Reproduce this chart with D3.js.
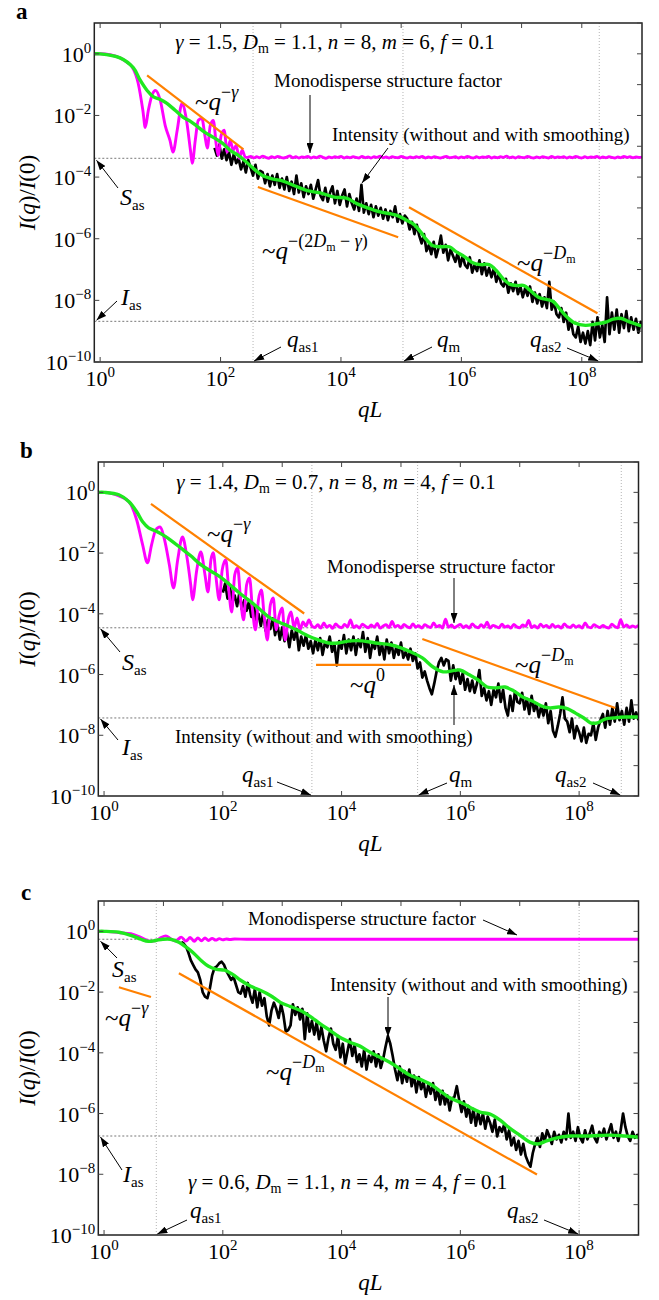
<!DOCTYPE html>
<html>
<head>
<meta charset="utf-8">
<script src="https://cdn.jsdelivr.net/npm/d3@7"></script>
<style>
  body { margin: 0; background: #fff; }
  svg { display: block; }
  text { white-space: pre; fill: #000; }
</style>
</head>
<body>
<svg id="fig" width="659" height="1300"></svg>
<script>
// All series are stored as log10(qL) and log10(I(q)/I(0)).

// ---------- panel a : gamma 1.5, Dm 1.1, n 8, m 6, f 0.1 ----------
const aMagentaOsc = [[-0.1,0],[0,0],[0.33,-0.13],[0.45,-0.28],[0.53,-0.42],[0.63,-0.94],[0.71,-1.84],[0.75,-2.39],
  [0.80,-1.84],[0.86,-1.35],[0.92,-1.19],[1.0,-1.52],[1.08,-2.32],[1.16,-2.81],[1.21,-3.19],[1.28,-2.48],
  [1.36,-1.61],[1.43,-2.1],[1.50,-3.13],[1.53,-3.55],[1.58,-2.81],[1.63,-2.16],[1.69,-2.10],[1.74,-2.65],
  [1.78,-3.06],[1.83,-2.32],[1.88,-2.16],[1.93,-2.97],[1.96,-3.29],[2.01,-2.65],[2.06,-2.48],[2.11,-3.19],
  [2.16,-2.81],[2.21,-3.13],[2.26,-2.97],[2.31,-3.39],[2.36,-3.13],[2.41,-3.35]];
const aMagentaPlateauFrom = 2.45, aMagentaPlateauStep = 0.05;
const aMagentaPlateau = [
  -3.36,-3.33,-3.38,-3.34,-3.37,-3.32,-3.36,-3.39,-3.34,-3.37,-3.33,-3.36,-3.38,-3.35,-3.31,-3.37,-3.34,-3.38,-3.35,-3.36,
  -3.33,-3.38,-3.35,-3.37,-3.32,-3.36,-3.39,-3.35,-3.37,-3.34,-3.36,-3.33,-3.38,-3.35,-3.37,-3.34,-3.36,-3.38,-3.33,-3.37,
  -3.35,-3.38,-3.34,-3.36,-3.32,-3.37,-3.35,-3.38,-3.34,-3.36,-3.37,-3.33,-3.36,-3.38,-3.35,-3.37,-3.34,-3.36,-3.33,-3.38,
  -3.35,-3.37,-3.34,-3.36,-3.38,-3.35,-3.33,-3.37,-3.36,-3.34,-3.38,-3.35,-3.37,-3.33,-3.36,-3.38,-3.34,-3.37,-3.35,-3.36,
  -3.33,-3.38,-3.35,-3.37,-3.34,-3.36,-3.32,-3.37,-3.35,-3.38,-3.34,-3.36,-3.37,-3.33,-3.36,-3.38,-3.35,-3.37,-3.34,-3.36,
  -3.38,-3.33,-3.37,-3.35,-3.36,-3.34,-3.38,-3.35,-3.37,-3.33,-3.36,-3.38,-3.34,-3.37,-3.35,-3.36,-3.33,-3.38,-3.35,-3.37,
  -3.34,-3.36,-3.38,-3.35,-3.37,-3.33,-3.36,-3.34,-3.37,-3.35,-3.36,-3.35];
const aBlackFrom = 1.90, aBlackStep = 0.04;
const aBlack = [
  -3.05,-3.30,-2.95,-3.40,-3.10, -3.45,-3.20,-3.60,-3.25,-3.55, -3.40,-3.75,-3.50,-3.85,-3.45,
  -3.70,-3.95,-3.60,-4.05,-3.80, -3.85,-4.20,-3.90,-4.30,-3.95, -4.25,-3.90,-4.35,-4.05,-4.40,
  -4.00,-4.45,-4.15,-4.55,-3.95, -4.50,-4.20,-4.65,-4.30,-4.55, -4.25,-4.70,-4.40,-4.10,-4.60,
  -4.75,-4.35,-4.80,-4.50,-4.30, -4.85,-4.45,-4.90,-4.60,-4.40, -4.95,-4.55,-4.85,-5.05,-4.70,
  -5.10,-4.25,-5.15,-4.85,-5.20, -4.90,-5.30,-4.95,-5.25,-5.00, -5.35,-5.05,-5.40,-5.10,-5.30,
  -4.95,-5.45,-5.20,-5.50,-5.25, -5.35,-5.70,-5.45,-5.85,-5.55, -5.90,-6.15,-5.85,-6.40,-6.20,
  -6.50,-6.10,-6.60,-6.30,-5.90, -6.45,-6.20,-6.70,-6.35,-6.55, -6.75,-6.45,-6.90,-6.55,-6.85,
  -6.95,-6.60,-7.10,-6.85,-7.05, -6.70,-7.15,-6.80,-7.20,-6.95, -7.25,-6.95,-7.40,-7.15,-7.45,
  -7.55,-7.30,-7.75,-7.45,-7.70, -7.40,-7.80,-7.55,-7.90,-7.60, -7.85,-7.55,-8.05,-7.75,-8.10,
  -7.80,-8.20,-7.90,-8.25,-7.40, -8.30,-8.05,-8.45,-8.55,-8.25, -8.70,-8.40,-8.95,-8.65,-9.10,
  -9.20,-8.85,-9.35,-9.05,-9.40, -9.00,-9.45,-8.70,-9.30,-8.55, -9.20,-8.80,-9.35,-7.90,-9.10,
  -8.40,-8.95,-8.30,-9.05,-8.45, -8.90,-8.35,-9.00,-8.55,-8.95, -8.60,-9.05,-8.70,-8.80];
const aGreen = [[-0.1,0],[0,0],[0.33,-0.13],[0.55,-0.45],[0.66,-0.84],[0.78,-1.19],[0.88,-1.39],[1.0,-1.48],
  [1.11,-1.61],[1.25,-1.84],[1.38,-2.06],[1.5,-2.19],[1.61,-2.35],[1.74,-2.55],[1.88,-2.71],[2.03,-2.9],
  [2.16,-3.13],[2.29,-3.29],[2.41,-3.48],[2.54,-3.71],[2.69,-3.94],[2.86,-4.06],[3.04,-4.13],[3.24,-4.29],
  [3.46,-4.45],[3.67,-4.52],[3.89,-4.65],[4.09,-4.68],[4.27,-4.87],[4.44,-5.0],[4.65,-5.13],[4.82,-5.19],
  [4.95,-5.26],[5.08,-5.39],[5.22,-5.55],[5.32,-5.77],[5.42,-6.03],[5.53,-6.23],[5.66,-6.26],[5.8,-6.26],
  [5.91,-6.42],[6.05,-6.58],[6.18,-6.77],[6.31,-6.84],[6.46,-6.84],[6.58,-7.03],[6.69,-7.29],[6.81,-7.48],
  [6.93,-7.52],[7.04,-7.52],[7.16,-7.71],[7.28,-7.9],[7.41,-7.97],[7.52,-8.03],[7.64,-8.29],[7.76,-8.55],
  [7.89,-8.74],[8.06,-8.81],[8.22,-8.77],[8.39,-8.71],[8.52,-8.61],[8.64,-8.58],[8.77,-8.68],[8.9,-8.77],[9.0,-8.84]];
const aGuideSteep = [[0.78,-0.70],[2.38,-3.10]];
const aGuideMiddle = [[2.62,-4.32],[4.95,-5.95]];
const aGuideTail = [[5.13,-4.98],[8.26,-8.42]];
const aCrossovers = [2.54, 5.03, 8.29];      // q_as1, q_m, q_as2
const aAsymptotes = [-3.39, -8.68];          // S_as, I_as

// ---------- panel b : gamma 1.4, Dm 0.7, n 8, m 4, f 0.1 ----------
const bMagentaOsc = [[-0.1,0],[0.01,0],[0.25,-0.12],[0.42,-0.31],[0.55,-0.91],[0.65,-1.73],[0.73,-2.32],
  [0.80,-1.73],[0.87,-1.24],[0.94,-1.14],[1.02,-1.57],[1.10,-2.39],[1.17,-3.15],[1.24,-2.22],[1.32,-1.47],
  [1.39,-2.06],[1.46,-3.05],[1.49,-3.54],[1.56,-2.57],[1.63,-1.96],[1.70,-2.72],[1.75,-3.28],[1.80,-2.22],
  [1.84,-1.99],[1.89,-2.88],[1.94,-3.54],[1.99,-2.55],[2.05,-2.22],[2.10,-3.21],[2.15,-3.94],[2.20,-2.72],
  [2.25,-2.49],[2.30,-3.54],[2.35,-4.20],[2.40,-3.05],[2.45,-2.82],[2.50,-3.87],[2.55,-4.53],[2.60,-3.54],
  [2.65,-3.21],[2.70,-4.14],[2.75,-4.86],[2.80,-3.71],[2.85,-3.48],[2.90,-4.53],[2.95,-4.04],[3.00,-3.81],
  [3.05,-4.86],[3.10,-4.2],[3.15,-3.94],[3.20,-4.46],[3.25,-4.14],[3.30,-4.53],[3.35,-4.27],[3.40,-4.4],[3.45,-4.20]];
const bMagentaPlateauFrom = 3.50, bMagentaPlateauStep = 0.05;
const bMagentaPlateau = [
  -4.40,-4.45,-4.36,-4.47,-4.30,-4.44,-4.38,-4.48,-4.33,-4.42,-4.46,-4.35,-4.43,-4.20,-4.45,-4.39,-4.47,-4.34,-4.41,-4.46,
  -4.37,-4.44,-4.32,-4.47,-4.40,-4.36,-4.45,-4.25,-4.43,-4.38,-4.47,-4.35,-4.42,-4.46,-4.33,-4.44,-4.39,-4.47,-4.36,-4.41,
  -4.45,-4.30,-4.43,-4.38,-4.47,-4.18,-4.44,-4.37,-4.46,-4.40,-4.35,-4.45,-4.39,-4.47,-4.33,-4.42,-4.46,-4.36,-4.44,-4.28,
  -4.47,-4.38,-4.42,-4.46,-4.34,-4.44,-4.40,-4.47,-4.35,-4.43,-4.46,-4.37,-4.41,-4.22,-4.45,-4.39,-4.47,-4.34,-4.43,-4.38,
  -4.46,-4.35,-4.44,-4.40,-4.47,-4.33,-4.42,-4.45,-4.37,-4.44,-4.39,-4.47,-4.30,-4.43,-4.46,-4.36,-4.41,-4.45,-4.38,-4.44,
  -4.47,-4.34,-4.42,-4.46,-4.19,-4.43,-4.37,-4.45,-4.40,-4.44,-4.38];
const bBlackFrom = 2.00, bBlackStep = 0.04;
const bBlack = [
  -3.30,-3.00,-3.50,-3.15,-3.60, -3.40,-3.75,-3.30,-3.85,-3.55, -3.90,-3.60,-4.10,-3.70,-4.25,
  -4.00,-4.40,-3.95,-4.55,-4.20, -4.50,-4.15,-4.70,-4.35,-4.85, -4.45,-4.90,-4.60,-5.10,-4.55,
  -4.85,-4.50,-5.20,-4.75,-5.05, -4.70,-5.15,-4.90,-5.30,-4.85, -5.20,-4.80,-5.35,-4.95,-5.10,
  -4.75,-5.25,-5.00,-5.70,-4.90, -5.15,-4.70,-5.30,-4.85,-5.20, -4.75,-5.35,-4.85,-5.10,-4.60,
  -5.25,-4.80,-5.45,-4.95,-5.15, -4.75,-5.35,-5.00,-5.50,-4.85, -5.30,-4.95,-5.45,-5.10,-5.35,
  -4.95,-5.45,-5.25,-5.50,-5.15, -5.55,-5.30,-5.80,-5.60,-6.10, -5.90,-6.20,-6.45,-6.65,-6.30,
  -5.90,-5.60,-5.45,-5.70,-5.50, -5.55,-6.20,-5.70,-6.15,-5.85, -6.30,-5.95,-6.50,-6.15,-6.55,
  -6.20,-6.60,-6.30,-5.85,-6.70, -6.45,-6.85,-6.55,-7.00,-6.50, -6.75,-6.30,-6.90,-6.50,-7.10,
  -7.35,-6.70,-7.20,-6.55,-6.90, -6.95,-6.60,-7.15,-6.80,-7.30, -6.70,-7.20,-6.95,-7.40,-7.05,
  -7.35,-6.95,-7.60,-7.20,-7.85, -8.05,-7.70,-7.30,-6.75,-7.45, -7.55,-7.90,-7.45,-8.10,-7.70,
  -7.90,-8.20,-7.75,-8.25,-7.95, -8.00,-7.60,-8.15,-7.75,-7.50, -7.30,-7.75,-7.20,-7.65,-7.10,
  -7.55,-6.95,-7.50,-7.20,-7.65, -7.10,-7.55,-6.85,-7.45,-7.25, -7.50];
const bGreen = [[-0.1,0],[0.01,0],[0.25,-0.08],[0.42,-0.31],[0.55,-0.64],[0.65,-0.97],[0.75,-1.17],[0.87,-1.27],
  [0.99,-1.40],[1.12,-1.57],[1.29,-1.83],[1.46,-2.09],[1.59,-2.32],[1.76,-2.55],[1.93,-2.75],[2.10,-3.01],
  [2.26,-3.28],[2.43,-3.54],[2.60,-3.81],[2.77,-4.10],[2.94,-4.27],[3.10,-4.40],[3.27,-4.56],[3.44,-4.73],
  [3.61,-4.86],[3.78,-4.96],[3.94,-4.96],[4.15,-4.89],[4.35,-4.89],[4.57,-4.96],[4.82,-5.02],[5.0,-5.12],
  [5.17,-5.26],[5.36,-5.45],[5.54,-5.75],[5.71,-5.91],[5.86,-5.88],[5.99,-5.85],[6.15,-6.01],[6.30,-6.18],
  [6.45,-6.41],[6.60,-6.44],[6.75,-6.41],[6.90,-6.54],[7.05,-6.74],[7.21,-6.87],[7.36,-7.03],[7.51,-7.10],
  [7.66,-7.07],[7.81,-7.13],[7.94,-7.27],[8.08,-7.43],[8.19,-7.59],[8.31,-7.59],[8.45,-7.46],[8.58,-7.43],
  [8.77,-7.40],[9.0,-7.40]];
const bGuideSteep = [[0.79,-0.38],[3.37,-3.99]];
const bGuideFlat = [[3.57,-5.68],[5.17,-5.68]];
const bGuideTail = [[5.36,-4.83],[8.61,-7.10]];
const bCrossovers = [3.50, 5.28, 8.71];
const bAsymptotes = [-4.46, -7.43];

// ---------- panel c : gamma 0.6, Dm 1.1, n 4, m 4, f 0.1 ----------
const cMagenta = [[-0.1,0],[0.01,0],[0.25,-0.04],[0.45,-0.08],[0.62,-0.2],[0.78,-0.33],[0.88,-0.3],[0.96,-0.2],
  [1.04,-0.15],[1.12,-0.24],[1.2,-0.32],[1.3,-0.19],[1.38,-0.32],[1.45,-0.2],[1.52,-0.33],[1.58,-0.22],
  [1.64,-0.31],[1.7,-0.22],[1.76,-0.3],[1.82,-0.23],[1.88,-0.29],[1.94,-0.24],[2.0,-0.28],[2.06,-0.25],
  [2.12,-0.27],[2.2,-0.25],[2.4,-0.26],[3,-0.26],[4,-0.26],[5,-0.26],[6,-0.26],[7,-0.26],[8,-0.26],[9,-0.26]];
const cBlackFrom = 1.30, cBlackStep = 0.04;
const cBlack = [
  -0.35,-0.40,-0.50,-0.70,-0.95, -1.10,-1.25,-1.35,-1.60,-2.00, -2.15,-2.20,-1.90,-1.45,-1.20,
  -1.15,-1.05,-1.00,-1.10,-1.30, -1.45,-1.60,-1.50,-1.75,-2.00, -2.05,-1.80,-2.15,-1.70,-2.10,
  -2.35,-1.90,-2.50,-2.00,-2.45, -2.20,-2.80,-3.10,-2.60,-2.35, -2.55,-2.85,-2.40,-2.75,-3.30,
  -3.25,-3.10,-2.40,-2.75,-2.50, -2.90,-2.55,-3.55,-2.70,-3.30, -2.95,-3.40,-3.00,-3.55,-3.15,
  -3.60,-3.95,-3.50,-3.20,-3.70, -3.90,-3.45,-4.15,-3.70,-4.35, -3.95,-3.55,-4.10,-3.75,-4.30,
  -4.05,-4.45,-3.90,-4.55,-4.10, -4.30,-3.95,-4.45,-4.05,-4.50, -4.20,-3.80,-3.45,-3.70,-4.10,
  -4.55,-4.90,-4.45,-5.00,-4.60, -4.95,-4.55,-5.10,-4.75,-5.30, -4.80,-5.20,-4.95,-5.45,-5.05,
  -5.35,-5.00,-5.55,-5.20,-5.70, -5.25,-5.70,-5.40,-5.90,-5.50, -5.45,-5.10,-5.55,-5.95,-5.60,
  -6.10,-5.75,-6.30,-5.85,-6.40, -5.95,-6.35,-6.00,-6.50,-6.10, -6.30,-6.60,-6.20,-6.75,-6.45,
  -6.60,-6.35,-6.85,-6.55,-7.05, -6.80,-7.20,-6.90,-7.35,-7.00, -7.40,-7.60,-7.75,-7.30,-7.00,
  -6.80,-7.10,-6.65,-6.90,-6.55, -6.75,-7.00,-6.60,-6.85,-6.70, -6.95,-6.60,-6.85,-6.00,-6.80,
  -6.60,-6.90,-6.45,-6.80,-6.95, -6.55,-6.85,-6.65,-6.40,-6.80, -6.95,-6.60,-6.75,-6.50,-6.85,
  -6.60,-6.35,-6.80,-6.60,-6.90, -6.55,-6.00,-6.45,-6.75,-6.90, -6.60,-6.80,-6.70,-6.75];
const cGreen = [[-0.1,0],[0.01,0],[0.25,-0.03],[0.45,-0.13],[0.62,-0.26],[0.75,-0.33],[0.87,-0.30],[0.99,-0.26],
  [1.12,-0.26],[1.26,-0.36],[1.39,-0.53],[1.51,-0.72],[1.63,-0.95],[1.76,-1.15],[1.89,-1.25],[2.03,-1.28],
  [2.16,-1.41],[2.30,-1.61],[2.47,-1.81],[2.63,-1.94],[2.80,-2.11],[2.97,-2.34],[3.13,-2.47],[3.30,-2.60],
  [3.47,-2.80],[3.63,-3.03],[3.80,-3.26],[3.97,-3.49],[4.14,-3.65],[4.31,-3.78],[4.48,-3.98],[4.64,-4.14],
  [4.81,-4.31],[4.99,-4.54],[5.15,-4.74],[5.32,-4.87],[5.49,-5.03],[5.66,-5.26],[5.83,-5.49],[6.0,-5.63],
  [6.16,-5.79],[6.33,-5.95],[6.5,-6.02],[6.67,-6.22],[6.83,-6.48],[7.0,-6.71],[7.17,-6.94],[7.31,-7.0],
  [7.44,-6.91],[7.61,-6.81],[7.84,-6.74],[8.18,-6.74],[8.52,-6.71],[8.77,-6.74],[9.0,-6.78]];
const cGuideSteep = [[0.25,-1.84],[0.79,-2.16]];
const cGuideTail = [[1.26,-1.38],[7.29,-8.01]];
const cCrossovers = [0.88, 8.00];            // q_as1, q_as2
const cAsymptotes = [-0.26, -6.74];

// axis decades
const xLabelDecades = [0, 2, 4, 6, 8];
const xMinorDecades = [0, 1, 2, 3, 4, 5, 6, 7, 8];
const yLabelDecades = [0, -2, -4, -6, -8, -10];
const yMinorDecades = [1, 0, -1, -2, -3, -4, -5, -6, -7, -8, -9, -10];

// ---------- text helpers ----------
const FONT = '"Liberation Serif","Times New Roman",Times,serif';
const t = (s, o) => Object.assign({ s }, o || {});
const sup = (s, o) => t(s, Object.assign({ sh: -12, fs: 18 }, o || {}));

const lblSteep = [t('~'), t('q', { i: 1 }), sup('−'), sup('γ', { i: 1 })];
const lblDm = [t('~'), t('q', { i: 1 }), sup('−'), sup('D', { i: 1 }), t('m', { sh: -8, fs: 12 })];
const lblMid = [t('~'), t('q', { i: 1 }), sup('−(2'), sup('D', { i: 1 }), t('m', { sh: -8, fs: 12 }),
  sup(' − '), sup('γ', { i: 1 }), sup(')')];
const lblFlat = [t('~'), t('q', { i: 1 }), sup('0')];
const sub = s => t(s, { sh: 5, fs: 15 });
const lblS = [t('S', { i: 1 }), sub('as')];
const lblI = [t('I', { i: 1 }), sub('as')];
const lblQ1 = [t('q', { i: 1 }), sub('as1')];
const lblQm = [t('q', { i: 1 }), sub('m')];
const lblQ2 = [t('q', { i: 1 }), sub('as2')];
const paramLine = (g, d, n, m, f) => [t('γ', { i: 1 }), t(' = ' + g + ', '), t('D', { i: 1 }),
  t('m', { sh: 4, fs: 14 }), t(' = ' + d + ', '), t('n', { i: 1 }), t(' = ' + n + ', '),
  t('m', { i: 1 }), t(' = ' + m + ', '), t('f', { i: 1 }), t(' = ' + f)];
const lblMono = [t('Monodisperse structure factor')];
const lblIntensity = [t('Intensity (without and with smoothing)')];

const svg = d3.select('#fig').attr('font-family', FONT);
const defs = svg.append('defs');
defs.append('marker').attr('id', 'head').attr('viewBox', '0 0 10 7')
  .attr('refX', 10).attr('refY', 3.5).attr('markerWidth', 10).attr('markerHeight', 7)
  .attr('markerUnits', 'userSpaceOnUse').attr('orient', 'auto')
  .append('path').attr('d', 'M0,0L10,3.5L0,7Z').attr('fill', '#000');

function rich(g, x, y, parts, size, anchor) {
  const el = g.append('text').attr('x', x).attr('y', y).attr('font-size', size)
    .attr('text-anchor', anchor || 'start');
  let cur = 0;
  parts.forEach(p => {
    const sh = p.sh || 0;
    const ts = el.append('tspan').attr('dy', sh - cur).text(p.s);
    cur = sh;
    if (p.i) ts.attr('font-style', 'italic');
    if (p.fs) ts.attr('font-size', p.fs);
  });
  return el;
}

function arrow(g, x1, y1, x2, y2) {
  g.append('line').attr('x1', x1).attr('y1', y1).attr('x2', x2).attr('y2', y2)
    .attr('stroke', '#000').attr('stroke-width', 1).attr('marker-end', 'url(#head)');
}

const toPts = pairs => pairs.map(([lq, li]) => [10 ** lq, 10 ** li]);
const gridPts = (from, step, vals) => vals.map((v, i) => [10 ** (from + i * step), 10 ** v]);

function drawPanel(p) {
  const x = d3.scaleLog().domain([0.8, 1e9]).range([p.left, p.right]);
  const y = d3.scaleLog().domain([1e-10, 10]).range([p.bottom, p.top]);
  const g = svg.append('g');
  const w = p.right - p.left, h = p.bottom - p.top;

  defs.append('clipPath').attr('id', 'clip-' + p.key)
    .append('rect').attr('x', p.left).attr('y', p.top).attr('width', w).attr('height', h);

  // panel letter
  g.append('text').attr('x', p.letterX).attr('y', p.letterY).attr('font-size', 23)
    .attr('font-weight', 'bold').text(p.key);

  // crossover positions and asymptotic levels
  p.crossovers.forEach(lq => {
    g.append('line').attr('x1', x(10 ** lq)).attr('x2', x(10 ** lq))
      .attr('y1', p.top).attr('y2', p.bottom)
      .attr('stroke', '#b4b4b4').attr('stroke-width', 1).attr('stroke-dasharray', '1,2');
  });
  p.asymptotes.forEach(lv => {
    g.append('line').attr('x1', p.left).attr('x2', p.right)
      .attr('y1', y(10 ** lv)).attr('y2', y(10 ** lv))
      .attr('stroke', '#777').attr('stroke-width', 1).attr('stroke-dasharray', '2,2');
  });

  const plot = g.append('g').attr('clip-path', 'url(#clip-' + p.key + ')');
  const line = d3.line().x(d => x(d[0])).y(d => y(d[1]));
  const smooth = d3.line().x(d => x(d[0])).y(d => y(d[1])).curve(d3.curveMonotoneX);
  const round = d3.line().x(d => x(d[0])).y(d => y(d[1])).curve(d3.curveCatmullRom.alpha(0.5));

  plot.append('path').attr('d', line(p.black)).attr('fill', 'none')
    .attr('stroke', '#000').attr('stroke-width', 2.7).attr('stroke-linejoin', 'round');
  plot.append('path').attr('d', smooth(p.magenta)).attr('fill', 'none')
    .attr('stroke', '#ff00ff').attr('stroke-width', 2.9).attr('stroke-linejoin', 'round');
  plot.append('path').attr('d', round(p.green)).attr('fill', 'none')
    .attr('stroke', '#1fe81f').attr('stroke-width', 3.4).attr('stroke-linejoin', 'round');
  p.guides.forEach(gd => {
    plot.append('path').attr('d', line(toPts(gd))).attr('fill', 'none')
      .attr('stroke', '#ff8000').attr('stroke-width', 2.2);
  });

  // frame and ticks
  g.append('rect').attr('x', p.left).attr('y', p.top).attr('width', w).attr('height', h)
    .attr('fill', 'none').attr('stroke', '#222').attr('stroke-width', 1.5);
  const tk = g.append('g').attr('stroke', '#444').attr('stroke-width', 1);
  xLabelDecades.forEach(d => {
    const xx = x(10 ** d);
    tk.append('line').attr('x1', xx).attr('x2', xx).attr('y1', p.bottom).attr('y2', p.bottom - 5);
  });
  xMinorDecades.forEach(d => {
    const xx = x(10 ** d);
    tk.append('line').attr('x1', xx).attr('x2', xx).attr('y1', p.top).attr('y2', p.top + 5);
  });
  yLabelDecades.forEach(d => {
    const yy = y(10 ** d);
    tk.append('line').attr('x1', p.left).attr('x2', p.left + 5).attr('y1', yy).attr('y2', yy);
  });
  yMinorDecades.forEach(d => {
    const yy = y(10 ** d);
    tk.append('line').attr('x1', p.right).attr('x2', p.right - 5).attr('y1', yy).attr('y2', yy);
  });

  const expo = d => [t('10'), t(String(d).replace('-', '−'), { sh: -9, fs: 15 })];
  xLabelDecades.forEach(d => rich(g, x(10 ** d), p.bottom + 23.5, expo(d), 22, 'middle'));
  yLabelDecades.forEach(d => rich(g, p.left - 3, y(10 ** d) + 8, expo(d), 22, 'end'));

  // axis titles
  rich(g, (p.left + p.right) / 2 + 2, p.bottom + 55, [t('qL', { i: 1 })], 23, 'middle');
  rich(g.append('g').attr('transform', `translate(35,${(p.top + p.bottom) / 2}) rotate(-90)`), 0, 0,
    [t('I', { i: 1 }), t('('), t('q', { i: 1 }), t(')/'), t('I', { i: 1 }), t('(0)')], 23, 'middle');

  // annotations
  p.notes.forEach(n => rich(g, n.x, n.y, n.parts, n.size, n.anchor));
  p.arrows(x, y).forEach(a => arrow(g, a[0], a[1], a[2], a[3]));
}

drawPanel({
  key: 'a', left: 94.3, right: 642, top: 23, bottom: 362, letterX: 16, letterY: 19,
  magenta: toPts(aMagentaOsc).concat(gridPts(aMagentaPlateauFrom, aMagentaPlateauStep, aMagentaPlateau)),
  black: gridPts(aBlackFrom, aBlackStep, aBlack),
  green: toPts(aGreen),
  guides: [aGuideSteep, aGuideMiddle, aGuideTail],
  crossovers: aCrossovers, asymptotes: aAsymptotes,
  notes: [
    { x: 335, y: 49, parts: paramLine('1.5', '1.1', 8, 6, '0.1'), size: 21, anchor: 'middle' },
    { x: 274, y: 87, parts: lblMono, size: 19 },
    { x: 332, y: 141, parts: lblIntensity, size: 19 },
    { x: 195, y: 110, parts: lblSteep, size: 25 },
    { x: 262, y: 259, parts: lblMid, size: 25 },
    { x: 517, y: 271, parts: lblDm, size: 25 },
    { x: 120, y: 205, parts: lblS, size: 24 },
    { x: 121, y: 305, parts: lblI, size: 24 },
    { x: 287, y: 347, parts: lblQ1, size: 23 },
    { x: 437, y: 347, parts: lblQm, size: 23 },
    { x: 530, y: 347, parts: lblQ2, size: 23 }
  ],
  arrows: (x, y) => [
    [310, 95, 310, 153],
    [388, 148, 362, 183],
    [118, 188, 96.5, y(10 ** aAsymptotes[0]) + 2],
    [117, 301, 96.5, y(10 ** aAsymptotes[1]) - 1],
    [281, 347, x(10 ** aCrossovers[0]) + 1, 361],
    [432, 347, x(10 ** aCrossovers[1]) + 1, 361],
    [567, 348, x(10 ** aCrossovers[2]) - 1, 361]
  ]
});

drawPanel({
  key: 'b', left: 98.3, right: 638.5, top: 462, bottom: 796, letterX: 20, letterY: 458,
  magenta: toPts(bMagentaOsc).concat(gridPts(bMagentaPlateauFrom, bMagentaPlateauStep, bMagentaPlateau)),
  black: gridPts(bBlackFrom, bBlackStep, bBlack),
  green: toPts(bGreen),
  guides: [bGuideSteep, bGuideFlat, bGuideTail],
  crossovers: bCrossovers, asymptotes: bAsymptotes,
  notes: [
    { x: 336, y: 489, parts: paramLine('1.4', '0.7', 8, 4, '0.1'), size: 21, anchor: 'middle' },
    { x: 207, y: 542, parts: lblSteep, size: 25 },
    { x: 327, y: 573, parts: lblMono, size: 19 },
    { x: 350, y: 693, parts: lblFlat, size: 25 },
    { x: 515, y: 673, parts: lblDm, size: 25 },
    { x: 175, y: 743, parts: lblIntensity, size: 19 },
    { x: 122, y: 670, parts: lblS, size: 24 },
    { x: 122, y: 755, parts: lblI, size: 24 },
    { x: 242, y: 782, parts: lblQ1, size: 23 },
    { x: 449, y: 782, parts: lblQm, size: 23 },
    { x: 555, y: 782, parts: lblQ2, size: 23 }
  ],
  arrows: (x, y) => [
    [454, 578, 454, 623],
    [454, 725, 454, 685],
    [120, 652, 100.5, y(10 ** bAsymptotes[0]) + 1],
    [118, 740, 100.5, y(10 ** bAsymptotes[1]) + 1],
    [277, 782, x(10 ** bCrossovers[0]) - 1, 795],
    [447, 783, x(10 ** bCrossovers[1]) + 1, 795],
    [593, 783, x(10 ** bCrossovers[2]) - 1, 795]
  ]
});

drawPanel({
  key: 'c', left: 98.3, right: 638.5, top: 901, bottom: 1235, letterX: 21, letterY: 900,
  magenta: toPts(cMagenta),
  black: gridPts(cBlackFrom, cBlackStep, cBlack),
  green: toPts(cGreen),
  guides: [cGuideSteep, cGuideTail],
  crossovers: cCrossovers, asymptotes: cAsymptotes,
  notes: [
    { x: 248, y: 925, parts: lblMono, size: 19 },
    { x: 330, y: 991, parts: lblIntensity, size: 19 },
    { x: 112, y: 977, parts: lblS, size: 24 },
    { x: 105, y: 1026, parts: lblSteep, size: 25 },
    { x: 266, y: 1080, parts: lblDm, size: 25 },
    { x: 123, y: 1182, parts: lblI, size: 24 },
    { x: 188, y: 1189, parts: paramLine('0.6', '1.1', 4, 4, '0.1'), size: 21 },
    { x: 190, y: 1218, parts: lblQ1, size: 23 },
    { x: 507, y: 1218, parts: lblQ2, size: 23 }
  ],
  arrows: (x, y) => [
    [483, 920, 517, 935],
    [388, 997, 388, 1037],
    [117, 958, 100.5, y(10 ** cAsymptotes[0]) + 2],
    [122, 1170, 100.5, y(10 ** cAsymptotes[1]) + 1],
    [187, 1220, x(10 ** cCrossovers[0]) + 1, 1234],
    [544, 1220, x(10 ** cCrossovers[1]) - 1, 1234]
  ]
});
</script>
</body>
</html>
